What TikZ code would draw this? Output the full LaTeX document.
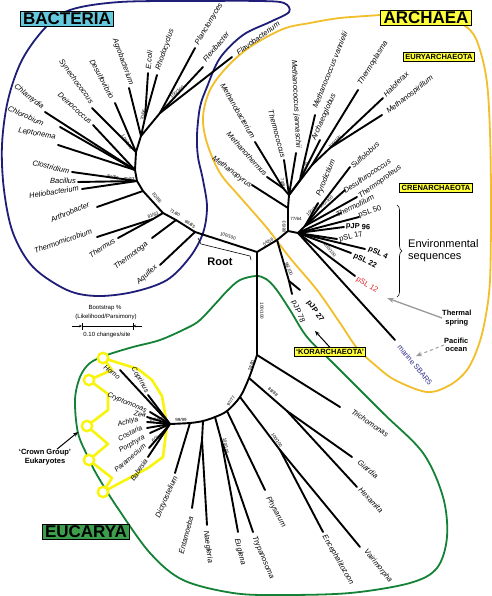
\documentclass[tikz,border=0pt]{standalone}
\usepackage{fontspec}
\setmainfont{Liberation Sans}
\usetikzlibrary{arrows.meta,decorations.pathreplacing}
\definecolor{navyline}{HTML}{1E1E78}
\definecolor{archline}{HTML}{F2BE2A}
\definecolor{eucline}{HTML}{148236}
\definecolor{crownline}{HTML}{F8F40A}
\definecolor{bactfill}{HTML}{66C8DC}
\definecolor{archfill}{HTML}{FFFF3C}
\definecolor{eucfill}{HTML}{3C9E4C}
\definecolor{redseq}{HTML}{E02020}
\definecolor{marinecol}{HTML}{2E2E8C}
\definecolor{grayarrow}{HTML}{9A9A9A}
\begin{document}
\begin{tikzpicture}[x=1pt,y=-1pt,
  br/.style={line width=1.9pt,line cap=round},
  gn/.style={font=\fontsize{7.5}{8}\selectfont\itshape,inner sep=0pt},
  gs/.style={font=\fontsize{7}{8}\selectfont\itshape,inner sep=0pt},
  sq/.style={font=\fontsize{7.5}{8}\selectfont,inner sep=0pt},
  sqb/.style={font=\fontsize{7.5}{8}\selectfont\bfseries,inner sep=0pt},
  bs/.style={font=\fontsize{4.5}{5}\selectfont,inner sep=0pt},
  bigbox/.style={draw=black,line width=1pt,font=\fontsize{17}{18}\selectfont\bfseries,inner xsep=3pt,inner ysep=1pt},
  cladebox/.style={draw=black,line width=0.8pt,fill=archfill,font=\fontsize{7.5}{8}\selectfont\bfseries,inner xsep=2pt,inner ysep=1.5pt},
  outl/.style={line width=1.8pt},
  note/.style={font=\fontsize{7.5}{8.5}\selectfont\bfseries,align=center,inner sep=0pt},
]
\fill[white] (0,0) rectangle (491,596);
\useasboundingbox (0,0) rectangle (491,596);

% ---------- outlines ----------
\draw[navyline,outl] plot[smooth cycle,tension=0.55] coordinates {
 (45,28) (22,60) (8,100) (2,145) (4,190) (13,233) (33,267) (67,290) (97,296)
 (133,292) (167,280) (190,257) (203,233) (207,207) (203,180) (198,157) (197,135)
 (200,107) (207,87) (220,58) (243,35) (270,22) (289,12) (284,3) (260,1) (200,1) (120,2) (70,10)};
\draw[archline,outl] plot[smooth cycle,tension=0.55] coordinates {
 (380,15) (340,18) (310,23) (283,29) (250,47) (227,67) (210,90) (203,117) (207,143)
 (220,173) (240,197) (267,228) (290,258) (317,290) (340,323) (357,348) (375,365)
 (395,380) (427,392) (450,385) (467,370) (478,347) (485,320) (490,280) (491,200)
 (490,133) (487,83) (480,50) (470,30) (445,16) (410,12)};
\draw[eucline,outl] plot[smooth cycle,tension=0.55] coordinates {
 (256,276) (240,280) (228,290) (217,302) (200,320) (187,328) (160,340) (133,347)
 (107,355) (90,363) (80,377) (75,400) (78,433) (88,457) (97,475) (117,507) (150,553)
 (183,580) (233,593) (280,595) (350,593) (410,583) (437,568) (447,537) (443,497)
 (423,453) (383,413) (333,363) (307,337) (290,310) (276,289) (266,279)};

% ---------- crown group chain ----------
\coordinate (C1) at (103,358); \coordinate (C2) at (89,380); \coordinate (C3) at (87,426);
\coordinate (C4) at (89,460); \coordinate (C5) at (103,492);
\draw[crownline,line width=2.6pt,line join=round]
 (C1) -- (112,370) -- (C2) -- (108,394) -- (108,410) -- (C3) -- (108,444) -- (C4)
 -- (112,478) -- (C5) -- (148,468) -- (163,457) -- (167,425) -- (162,396) -- (152,380) -- (138,369) -- (C1);
\foreach \c in {C1,C2,C3,C4,C5} \draw[crownline,line width=2.4pt,fill=white] (\c) circle (5.2);

% ---------- tree coordinates ----------
\coordinate (R) at (257,252);
\coordinate (B1) at (195,232); \coordinate (B2) at (176,220); \coordinate (B3) at (163,213);
\coordinate (TT) at (153,219); \coordinate (B4) at (143,191); \coordinate (B5) at (137,181);
\coordinate (B6) at (135,170); \coordinate (B7) at (136,152); \coordinate (B8) at (141,136);
\coordinate (ER) at (145,118); \coordinate (PF) at (160,113);
\coordinate (tAqu) at (160,265); \coordinate (tTga) at (152,238); \coordinate (tTus) at (118,238);
\coordinate (tTmi) at (97,237); \coordinate (tArt) at (97,207); \coordinate (tClo) at (72,172);
\coordinate (tBac) at (78,182); \coordinate (tHel) at (82,189); \coordinate (tLep) at (58,145);
\coordinate (tChb) at (60,127); \coordinate (tChl) at (45,112); \coordinate (tSyn) at (92,108);
\coordinate (tDei) at (93,125); \coordinate (tDes) at (115,103); \coordinate (tAgr) at (129,88);
\coordinate (tEco) at (148,73); \coordinate (tRho) at (157,75); \coordinate (tPla) at (195,48);
\coordinate (tFle) at (203,67); \coordinate (tFla) at (232,57);
% archaea
\coordinate (A0) at (277,240); \coordinate (A1) at (288,231); \coordinate (K) at (289,281);
\coordinate (tJ78) at (292,294); \coordinate (tJ27) at (300,290);
\coordinate (EP) at (288,208); \coordinate (E0) at (289,195); \coordinate (EM) at (283,188);
\coordinate (EA) at (300,180); \coordinate (EH) at (312,165); \coordinate (EX) at (330,148);
\coordinate (tMpy) at (252,185); \coordinate (tMth) at (267,177); \coordinate (tMba) at (255,142);
\coordinate (tTco) at (284,160); \coordinate (tMja) at (296,153); \coordinate (tMva) at (315,115);
\coordinate (tArc) at (320,140); \coordinate (tTpl) at (358,90); \coordinate (tHfx) at (383,98);
\coordinate (tMsp) at (382,115);
\coordinate (C0) at (298,233); \coordinate (CS) at (305,226);
\coordinate (tPyr) at (318,203); \coordinate (tSul) at (350,167); \coordinate (tDsc) at (345,190);
\coordinate (tTpr) at (357,197); \coordinate (tTfi) at (341,213); \coordinate (tS50) at (359,217);
\coordinate (tJ96) at (344,227); \coordinate (tS17) at (337,239); \coordinate (tS4) at (365,249);
\coordinate (tS22) at (351,253); \coordinate (tS12) at (355,276); \coordinate (tMar) at (395,340);
% eucarya
\coordinate (Eu0) at (257,355); \coordinate (Eu1) at (249,378); \coordinate (Eu2) at (240,397);
\coordinate (Eu3) at (227,411); \coordinate (Eu4) at (215,417); \coordinate (Eu5) at (203,421);
\coordinate (Eu6) at (190,423); \coordinate (N) at (170,424);
\coordinate (GH) at (287,411); \coordinate (M) at (280,450); \coordinate (ET) at (221,439);
\coordinate (NE) at (202,440);
\coordinate (tTri) at (340,407); \coordinate (tGia) at (352,457); \coordinate (tHex) at (357,487);
\coordinate (tEnc) at (323,532); \coordinate (tVai) at (360,547); \coordinate (tPhy) at (265,490);
\coordinate (tEug) at (238,532); \coordinate (tTry) at (253,532); \coordinate (tNae) at (207,525);
\coordinate (tEnt) at (192,508); \coordinate (tDic) at (175,473);
\coordinate (tHom) at (120,370); \coordinate (tCop) at (148,395); \coordinate (tCry) at (150,412);
\coordinate (tZea) at (147,417); \coordinate (tAch) at (147,422); \coordinate (tCos) at (147,428);
\coordinate (tPor) at (150,433); \coordinate (tPar) at (149,448); \coordinate (tBab) at (148,457);

% ---------- branches ----------
\draw[br,line join=round] (R) -- (B1) -- (B2) -- (B3) -- (B4) -- (B5) -- (B6) -- (B7) -- (B8);
\draw[br] (B1) -- (tAqu); \draw[br] (B2) -- (tTga); \draw[br] (B3) -- (TT);
\draw[br] (TT) -- (tTus); \draw[br] (TT) -- (tTmi); \draw[br] (B4) -- (tArt);
\draw[br] (B5) -- (tClo); \draw[br] (B5) -- (tBac); \draw[br] (B5) -- (tHel);
\draw[br] (B6) -- (tLep); \draw[br] (B6) -- (tChb); \draw[br] (B6) -- (tChl); \draw[br] (B6) -- (tDei);
\draw[br] (B7) -- (tSyn); \draw[br] (B7) -- (tDes); \draw[br] (B8) -- (tAgr);
\draw[br] (B8) -- (ER); \draw[br] (ER) -- (tEco); \draw[br] (ER) -- (tRho);
\draw[br] (B8) -- (PF); \draw[br] (PF) -- (tPla); \draw[br] (PF) -- (tFle); \draw[br] (PF) -- (tFla);
% archaea
\draw[br,line join=round] (R) -- (A0) -- (A1) -- (EP) -- (E0);
\draw[br] (A0) -- (K); \draw[br] (K) -- (tJ78); \draw[br] (K) -- (tJ27);
\draw[br] (EP) -- (tMpy); \draw[br] (E0) -- (EM); \draw[br] (EM) -- (tMth); \draw[br] (EM) -- (tMba);
\draw[br] (E0) -- (tTco); \draw[br] (E0) -- (tMja); \draw[br] (E0) -- (EA);
\draw[br] (EA) -- (tMva); \draw[br] (EA) -- (tArc); \draw[br] (E0) -- (EH);
\draw[br] (EH) -- (tTpl); \draw[br] (EH) -- (EX); \draw[br] (EX) -- (tHfx); \draw[br] (EX) -- (tMsp);
\draw[br] (A1) -- (C0); \draw[br] (C0) -- (CS);
\draw[br] (CS) -- (tPyr); \draw[br] (CS) -- (tSul); \draw[br] (CS) -- (tDsc); \draw[br] (CS) -- (tTpr);
\draw[br] (C0) -- (tTfi); \draw[br] (C0) -- (tS50); \draw[br] (C0) -- (tJ96); \draw[br] (C0) -- (tS17);
\draw[br] (C0) -- (tS4); \draw[br] (C0) -- (tS22); \draw[br] (C0) -- (tS12); \draw[br] (C0) -- (tMar);
% eucarya
\draw[br] (R) -- (Eu0);
\draw[br] plot[smooth,tension=0.5] coordinates {(257,355) (249,378) (240,397) (227,411) (215,417) (203,421) (190,423) (170,424)};
\draw[br] (Eu0) -- (tTri); \draw[br] (Eu1) -- (GH); \draw[br] (GH) -- (tGia); \draw[br] (GH) -- (tHex);
\draw[br] (Eu2) -- (M); \draw[br] (M) -- (tEnc); \draw[br] (M) -- (tVai);
\draw[br] (Eu3) -- (tPhy); \draw[br] (Eu4) -- (ET); \draw[br] (ET) -- (tEug); \draw[br] (ET) -- (tTry);
\draw[br] (Eu5) -- (NE); \draw[br] (NE) -- (tNae); \draw[br] (NE) -- (tEnt); \draw[br] (Eu6) -- (tDic);
\foreach \t in {tHom,tCop,tCry,tZea,tAch,tCos,tPor,tPar,tBab} \draw[br] (N) -- (\t);

% ---------- bacteria labels ----------
\node[gn,rotate=-38] (Lchl) at (29,97) {Chlamydia};
\node[gn,rotate=-25] (Lchb) at (26,116) {Chlorobium};
\node[gn,rotate=-10] (Llep) at (37,134) {Leptonema};
\node[gn,rotate=-13] (Lclo) at (51,167) {Clostridium};
\node[gn,rotate=0] (Lbac) at (63,181) {Bacillus};
\node[gn,rotate=9] (Lhel) at (54,192) {Heliobacterium};
\node[gn,rotate=23] (Lart) at (70,212) {Arthrobacter};
\node[gn,rotate=19] (Ltmi) at (63,241) {Thermomicrobium};
\node[gn,rotate=33] (Ltus) at (102,248) {Thermus};
\node[gn,rotate=37] (Ltga) at (131,256) {Thermotoga};
\node[gn,rotate=42] (Laqu) at (147,275) {Aquifex};
\node[gn,rotate=-54] (Lsyn) at (76,82) {Synechococcus};
\node[gn,rotate=-42] (Ldei) at (75,108) {Deinococcus};
\node[gn,rotate=-62] (Ldes) at (102,79) {Desulfovibrio};
\node[gn,rotate=-70] (Lagr) at (123,62) {Agrobacterium};
\node[gn,rotate=85] (Leco) at (149,60) {E.coli};
\node[gn,rotate=71] (Lrho) at (165,50) {Rhodocyclus};
\node[gn,rotate=59] (Lpla) at (209,24) {Planctomyces};
\node[gn,rotate=50] (Lfle) at (216,47) {Flexibacter};
\node[gn,rotate=36] (Lfla) at (258,38) {Flavobacterium};
% ---------- archaea labels ----------
\node[gn,rotate=-37] (Lmpy) at (232,172) {Methanopyrus};
\node[gn,rotate=-48] (Lmth) at (247,154) {Methanothermus};
\node[gn,rotate=-60] (Lmba) at (238,111) {Methanobacterium};
\node[gn,rotate=-75] (Ltco) at (277,134) {Thermococcus};
\node[gn,rotate=-87] (Lmja) at (296,104) {Methanococcus jannaschii};
\node[gn,rotate=68] (Lmva) at (330,70) {Methanococcus vannielii};
\node[gn,rotate=66] (Larc) at (324,117) {Archaeoglobus};
\node[gn,rotate=58] (Ltpl) at (373,63) {Thermoplasma};
\node[gn,rotate=45] (Lhfx) at (396,84) {Haloferax};
\node[gn,rotate=38] (Lmsp) at (410,95) {Methanospirillum};
\node[gn,rotate=68] (Lpyr) at (326,178) {Pyrodictium};
\node[gn,rotate=41] (Lsul) at (365,155) {Sulfolobus};
\node[gn,rotate=34] (Ldsc) at (367,176) {Desulfurococcus};
\node[gn,rotate=36] (Ltpr) at (380,182) {Thermoproteus};
\node[gn,rotate=27] (Ltfi) at (355,206) {Thermofilum};
\node[sq,rotate=20] (Ls50) at (370,212) {pSL 50};
\node[sqb,rotate=-4] (Lj96) at (358,227) {pJP 96};
\node[sq,rotate=13] (Ls17) at (351,237) {pSL 17};
\node[sqb,rotate=-25] (Ls4) at (378,253) {pSL 4};
\node[sqb,rotate=-25] (Ls22) at (365,261) {pSL 22};
\node[sq,rotate=-32,text=redseq] (Ls12) at (367,285) {pSL 12};
\node[sq,rotate=-50,text=marinecol] (Lmar) at (415,365) {marine SBAR5};
\node[sqb,rotate=-55] (Lj27) at (315,311) {pJP 27};
\node[sq,rotate=-68] (Lj78) at (298,312) {pJP 78};
% ---------- eucarya labels ----------
\node[gn,rotate=-34] (Ltri) at (370,423) {Trichomonas};
\node[gn,rotate=-40] (Lgia) at (368,469) {Giardia};
\node[gn,rotate=-47] (Lhex) at (371,500) {Hexamita};
\node[gn,rotate=-51] (Lvai) at (378,566) {Vairimorpha};
\node[gn,rotate=-60] (Lenc) at (338,560) {Encephalitozoon};
\node[gn,rotate=-61] (Lphy) at (276,512) {Physarum};
\node[gn,rotate=-67] (Ltry) at (263,558) {Trypanosoma};
\node[gn,rotate=-76] (Leug) at (240,552) {Euglena};
\node[gn,rotate=-82] (Lnae) at (208,547) {Naegleria};
\node[gn,rotate=75] (Lent) at (186,535) {Entamoeba};
\node[gn,rotate=66] (Ldic) at (167,497) {Dictyostelium};
\node[gs,rotate=-38] (Lhom) at (112,372) {Homo};
\node[gs,rotate=-60] (Lcop) at (140,380) {Coprinus};
\node[gs,rotate=-22] (Lcry) at (127,403) {Cryptomonas};
\node[gs,rotate=-10] (Lzea) at (140,414) {Zea};
\node[gs,rotate=15] (Lach) at (128,422) {Achlya};
\node[gs,rotate=27] (Lcos) at (130,433) {Costaria};
\node[gs,rotate=30] (Lpor) at (132,444) {Porphyra};
\node[gs,rotate=41] (Lpar) at (130,458) {Paramecium};
\node[gs,rotate=57] (Lbab) at (139,470) {Babesia};

% ---------- bootstrap values ----------
\node[bs,rotate=-18] (bs1) at (228,236) {100/100};
\node[bs,rotate=-32] (bs2) at (190,224) {69/85};
\node[bs,rotate=-30] (bs3) at (175,213) {71/80};
\node[bs,rotate=20] (bs4) at (153,215) {81/63};
\node[bs,rotate=-48] (bs5) at (157,198) {82/86};
\node[bs,rotate=-8] (bs6) at (113,177) {81/83};
\node[bs,rotate=-5] (bs7) at (129,179) {71/63};
\node[bs,rotate=-58] (bs8) at (127,142) {100/100};
\node[bs,rotate=80] (bs9) at (143,115) {70/66};
\node[bs,rotate=38] (bs10) at (177,92) {100/100};
\node[bs,rotate=31] (bs11) at (268,242) {54/56};
\node[bs] (bs12) at (296,219) {77/64};
\node[bs,rotate=90] (bs13) at (284,227) {88/93};
\node[bs,rotate=-67] (bs14) at (289,269) {96/100};
\node[bs,rotate=-50] (bs15) at (330,250) {100/100};
\node[bs,rotate=-80] (bs16) at (283,184) {74/82};
\node[bs,rotate=65] (bs17) at (304,170) {100/100};
\node[bs,rotate=45] (bs18) at (335,142) {100/100};
\node[bs,rotate=40] (bs19) at (313,210) {100/100};
\node[bs,rotate=40] (bs20) at (326,202) {100/100};
\node[bs,rotate=-90] (bs21) at (262,311) {100/100};
\node[bs,rotate=72] (bs22) at (251,366) {74/80};
\node[bs,rotate=-40] (bs23) at (273,392) {88/88};
\node[bs,rotate=58] (bs24) at (231,401) {97/77};
\node[bs,rotate=-57] (bs25) at (277,440) {100/100};
\node[bs,rotate=-80] (bs26) at (226,446) {100/100};
\node[bs] (bs27) at (181,420) {99/99};
\node[bs,rotate=10] (bs28) at (156,420) {100/91};
\node[bs,rotate=30] (bs29) at (157,438) {60/55};

% ---------- root marker ----------
\coordinate (rb1) at (198,238); \coordinate (rb2) at (201,244);
\coordinate (rb3) at (250,256); \coordinate (rb4) at (251,260);
\draw[line width=0.6pt] (rb1) -- (rb2) -- (rb3) -- (rb4);
\node[font=\fontsize{11}{12}\selectfont\bfseries,inner sep=0pt] (Lroot) at (220,262) {Root};

% ---------- scale bar ----------
\node[font=\fontsize{6}{7}\selectfont,inner sep=0pt] (Lboot) at (105,308) {Bootstrap \%};
\node[font=\fontsize{6}{7}\selectfont,inner sep=0pt] (Llik) at (106,317) {(Likelihood/Parsimony)};
\coordinate (sb1) at (72,326); \coordinate (sb2) at (82,326);
\coordinate (sb3) at (133,326); \coordinate (sb4) at (142,326);
\draw[line width=0.7pt] (sb2) -- (sb3);
\draw[line width=0.7pt] ([yshift=-3.5pt]sb2) -- ([yshift=3.5pt]sb2);
\draw[line width=0.7pt] ([yshift=-3.5pt]sb3) -- ([yshift=3.5pt]sb3);
\draw[line width=0.6pt,-{Stealth[length=3pt,width=2.5pt]}] (sb1) -- (sb2);
\draw[line width=0.6pt,-{Stealth[length=3pt,width=2.5pt]}] (sb4) -- (sb3);
\node[font=\fontsize{6}{7}\selectfont,inner sep=0pt] (Lscale) at (107,335) {0.10 changes/site};

% ---------- environmental brace & notes ----------
\coordinate (brt) at (397,205); \coordinate (brb) at (397,297);
\draw[line width=0.6pt,decorate,decoration={brace,amplitude=5pt}] (brt) -- (brb);
\node[font=\fontsize{11}{12}\selectfont,align=left,inner sep=0pt,anchor=west] (Lenv) at (408,251) {Environmental\\sequences};
\node[note,anchor=west] (Lthermal) at (442,318) {Thermal\\spring};
\node[note,anchor=west] (Lpacific) at (444,345) {Pacific\\ocean};
\draw[grayarrow,line width=1.3pt,-{Stealth[length=7pt,width=5pt]}] (Lthermal.west) -- (387,298);
\draw[grayarrow,line width=1pt,dashed,-{Stealth[length=6pt,width=5pt]}] (Lpacific.west) -- (416,356);

% ---------- clade boxes ----------
\node[bigbox,fill=bactfill] (Bact) at (67,19) {BACTERIA};
\node[bigbox,fill=archfill] (Arch) at (426,18) {ARCHAEA};
\node[bigbox,fill=eucfill] (Euc) at (86,532) {EUCARYA};
\node[cladebox] (Eury) at (439,57) {EURYARCHAEOTA};
\node[cladebox] (Cren) at (436,188) {CRENARCHAEOTA};
\node[cladebox] (Kor) at (330,352) {`KORARCHAEOTA'};
\coordinate (korA) at (315,331);
\draw[line width=1pt,-{Stealth[length=5pt,width=4pt]}] (Kor.north) -- (korA);
\node[note] (Lcrown) at (45,457) {`Crown Group'\\Eukaryotes};
\coordinate (crA) at (78,432);
\draw[line width=1pt,-{Stealth[length=5pt,width=4pt]}] ([xshift=12pt]Lcrown.north) -- (crA);
\end{tikzpicture}
\end{document}
